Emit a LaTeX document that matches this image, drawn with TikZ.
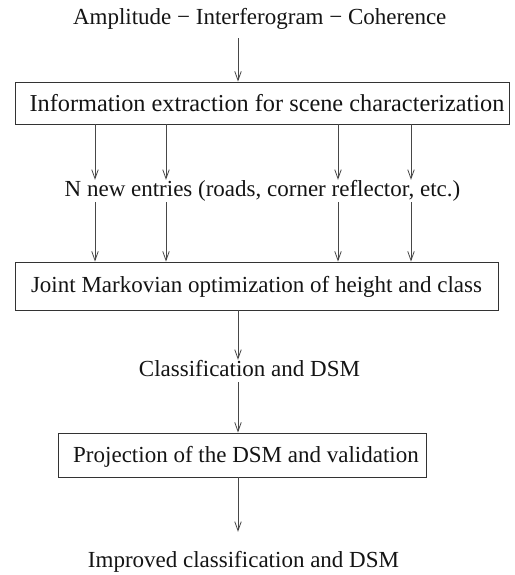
\documentclass[tikz,border=0pt]{standalone}
\usepackage{fontspec}
\setmainfont{Liberation Serif}
\usetikzlibrary{arrows.meta}
\definecolor{ink}{HTML}{141414}
\definecolor{edge}{HTML}{333333}
\tikzset{
  txt/.style={inner sep=0pt, anchor=base, text=ink, font=\fontsize{23}{27}\selectfont, text height=16pt, text depth=6pt},
  boxnode/.style={draw=edge, line width=0.9pt, inner sep=0pt, text=ink, font=\fontsize{23}{27}\selectfont},
  arr/.style={draw=edge!90!white, line width=0.8pt, -{Straight Barb[length=9pt,width=6.5pt]}}
}
\begin{document}
\begin{tikzpicture}[x=1pt,y=-1pt]
\useasboundingbox (0,0) rectangle (514,575);
\node[txt] (t1) at (259.7,25) {Amplitude − Interferogram − Coherence};
\node[boxnode, minimum width=494pt, minimum height=42pt, text height=17pt, text depth=1pt, font=\fontsize{24.3}{28}\selectfont] (b1) at (262,103) {\hspace*{10pt}Information extraction for scene characterization};
\node[txt] (t2) at (262.5,196) {N new entries (roads, corner reflector, etc.)};
\node[boxnode, minimum width=483pt, minimum height=48pt, text height=13pt, text depth=1pt] (b2) at (256.5,286) {Joint Markovian optimization of height and class};
\node[txt] (t3) at (249.5,376) {Classification and DSM};
\node[boxnode, minimum width=368pt, minimum height=44pt, text height=15pt, text depth=1pt] (b3) at (242,455) {\hspace*{8pt}Projection of the DSM and validation};
\node[txt] (t4) at (243.5,567) {Improved classification and DSM};
\coordinate (m) at (238,0);
\coordinate (c1) at (95,0);
\coordinate (c2) at (166,0);
\coordinate (c3) at (338,0);
\coordinate (c4) at (411,0);
\draw[arr, shorten <=7pt] (t1.south -| m) -- (b1.north -| m);
\foreach \c in {c1,c2,c3,c4}{
  \draw[arr] (b1.south -| \c) -- (t2.north -| \c);
  \draw[arr] (t2.south -| \c) -- (b2.north -| \c);
}
\draw[arr] (b2.south -| m) -- (t3.north -| m);
\draw[arr] (t3.south -| m) -- (b3.north -| m);
\draw[arr, shorten >=19pt] (b3.south -| m) -- (t4.north -| m);
\end{tikzpicture}
\end{document}
